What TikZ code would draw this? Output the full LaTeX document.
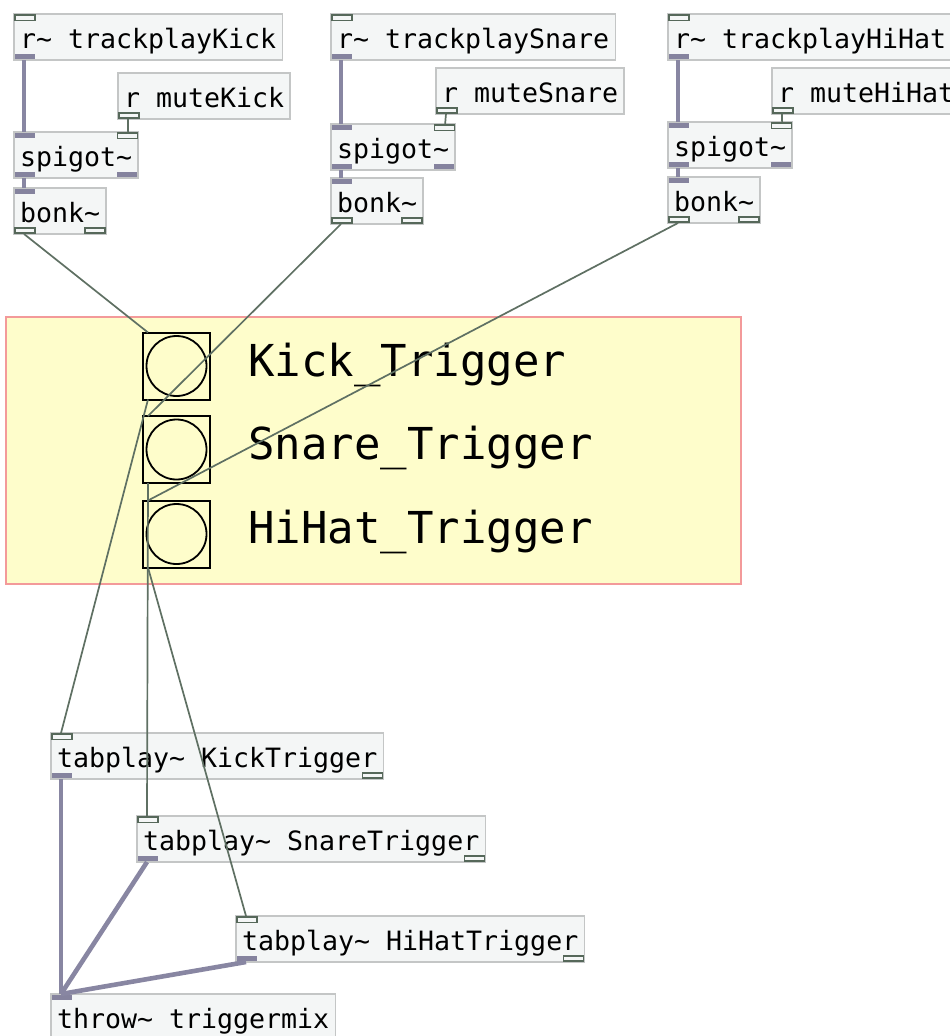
\documentclass[tikz,border=0pt]{standalone}
\usepackage{fontspec}
\newfontfamily\pdfont{DejaVu Sans Mono}
\usetikzlibrary{calc}

\definecolor{boxfill}{HTML}{F4F6F6}
\definecolor{boxline}{HTML}{C4C6C6}
\definecolor{portline}{HTML}{56685A}
\definecolor{sigfill}{HTML}{85839E}
\definecolor{ctlwire}{HTML}{5F7063}
\definecolor{sigwire}{HTML}{8886A2}
\definecolor{gopfill}{HTML}{FEFDCB}
\definecolor{gopline}{HTML}{F39A9A}

\tikzset{
  pdobj/.style={draw=boxline, fill=boxfill, line width=1.4pt, anchor=north west,
    outer sep=0pt, font=\pdfont\fontsize{26.6}{30}\selectfont, inner xsep=6pt,
    inner ysep=10pt, text height=24pt, text depth=2pt, text=black},
  ctlport/.style={draw=portline, fill=boxfill, line width=1.6pt},
  sigport/.style={fill=sigfill},
  ctlcord/.style={draw=ctlwire, line width=1.7pt},
  sigcord/.style={draw=sigwire, line width=4.6pt},
  bangbox/.style={draw=black, line width=2pt, minimum size=67pt, inner sep=0pt,
    outer sep=0pt, fill=gopfill},
  bangdot/.style={draw=black, line width=1.8pt},
  gopbox/.style={draw=gopline, fill=gopfill, line width=2pt, anchor=north west,
    minimum width=735pt, minimum height=267pt, inner sep=0pt, outer sep=0pt},
  biglabel/.style={anchor=base west, font=\pdfont\fontsize{44}{50}\selectfont,
    text=black, inner sep=0pt},
}

% an object box with its four port coordinates
\newcommand\pdobject[4]{%
  \node[pdobj] (#1) at (#2,#3) {#4};
  \coordinate (#1-i0) at ([xshift=10pt]#1.north west);
  \coordinate (#1-i1) at ([xshift=-10pt]#1.north east);
  \coordinate (#1-o0) at ([xshift=10pt]#1.south west);
  \coordinate (#1-o1) at ([xshift=-10pt]#1.south east);}
% port rectangles: left/right inlet, left/right outlet
\newcommand\inL[2]{\path[#2] ([xshift=0.8pt,yshift=-0.8pt]#1.north west) rectangle ++(20pt,-5.5pt);}
\newcommand\inR[2]{\path[#2] ([xshift=-0.8pt,yshift=-0.8pt]#1.north east) rectangle ++(-20pt,-5.5pt);}
\newcommand\outL[2]{\path[#2] ([xshift=0.8pt,yshift=0.8pt]#1.south west) rectangle ++(20pt,5.5pt);}
\newcommand\outR[2]{\path[#2] ([xshift=-0.8pt,yshift=0.8pt]#1.south east) rectangle ++(-20pt,5.5pt);}

\begin{document}
\begin{tikzpicture}[x=1pt,y=-1pt]
\useasboundingbox (0,0) rectangle (950,1036);
\clip (0,0) rectangle (950,1036);
\fill[white] (0,0) rectangle (950,1036);

% graph-on-parent panel with three bangs
\node[gopbox] (gop) at (6,317) {};
\foreach \n/\y in {bk/366, bs/449.5, bh/534}{
  \node[bangbox] (\n) at (176.5,\y) {};
  \draw[bangdot] (\n.center) circle[radius=30pt];
  \coordinate (\n-in) at ([xshift=5pt]\n.north west);
  \coordinate (\n-out) at ([xshift=5pt]\n.south west);
}
\node[biglabel] (lk) at (248,376) {Kick\_Trigger};
\node[biglabel] (ls) at (248,459) {Snare\_Trigger};
\node[biglabel] (lh) at (248,543) {HiHat\_Trigger};

% kick chain
\pdobject{rk}{14}{14}{r\char`~{} trackplayKick}
\pdobject{mk}{118}{73}{r muteKick}
\pdobject{sk}{14}{132}{spigot\char`~}
\pdobject{bnk}{14}{188}{bonk\char`~}
% snare chain
\pdobject{rs}{331}{14}{r\char`~{} trackplaySnare}
\pdobject{ms}{436}{68}{r muteSnare}
\pdobject{ss}{331}{124}{spigot\char`~}
\pdobject{bns}{331}{178}{bonk\char`~}
% hihat chain
\pdobject{rh}{668}{14}{r\char`~{} trackplayHiHat}
\pdobject{mh}{772}{68}{r muteHiHat}
\pdobject{sh}{668}{122}{spigot\char`~}
\pdobject{bnh}{668}{177}{bonk\char`~}
% players and mix
\pdobject{tk}{51}{733}{tabplay\char`~{} KickTrigger}
\pdobject{ts}{137}{816}{tabplay\char`~{} SnareTrigger}
\pdobject{th}{236}{916}{tabplay\char`~{} HiHatTrigger}
\pdobject{tm}{51}{994}{throw\char`~{} triggermix}

% ports
\foreach \n in {rk,rs,rh}{\inL{\n}{ctlport}\outL{\n}{sigport}}
\foreach \n in {mk,ms,mh}{\outL{\n}{ctlport}}
\foreach \n in {sk,ss,sh}{\inL{\n}{sigport}\inR{\n}{ctlport}\outL{\n}{sigport}\outR{\n}{sigport}}
\foreach \n in {bnk,bns,bnh}{\inL{\n}{sigport}\outL{\n}{ctlport}\outR{\n}{ctlport}}
\foreach \n in {tk,ts,th}{\inL{\n}{ctlport}\outL{\n}{sigport}\outR{\n}{ctlport}}
\inL{tm}{sigport}

% connections
\foreach \c in {k,s,h}{
  \draw[sigcord] (r\c-o0) -- (s\c-i0);
  \draw[ctlcord] (m\c-o0) -- (s\c-i1);
  \draw[sigcord] (s\c-o0) -- (bn\c-i0);
}
\draw[ctlcord] (bnk-o0) -- (bk-in);
\draw[ctlcord] (bns-o0) -- (bs-in);
\draw[ctlcord] (bnh-o0) -- (bh-in);
\draw[ctlcord] (bk-out) -- (tk-i0);
\draw[ctlcord] (bs-out) -- (ts-i0);
\draw[ctlcord] (bh-out) -- (th-i0);
\draw[sigcord] (tk-o0) -- (tm-i0);
\draw[sigcord] (ts-o0) -- (tm-i0);
\draw[sigcord] (th-o0) -- (tm-i0);
\end{tikzpicture}
\end{document}
